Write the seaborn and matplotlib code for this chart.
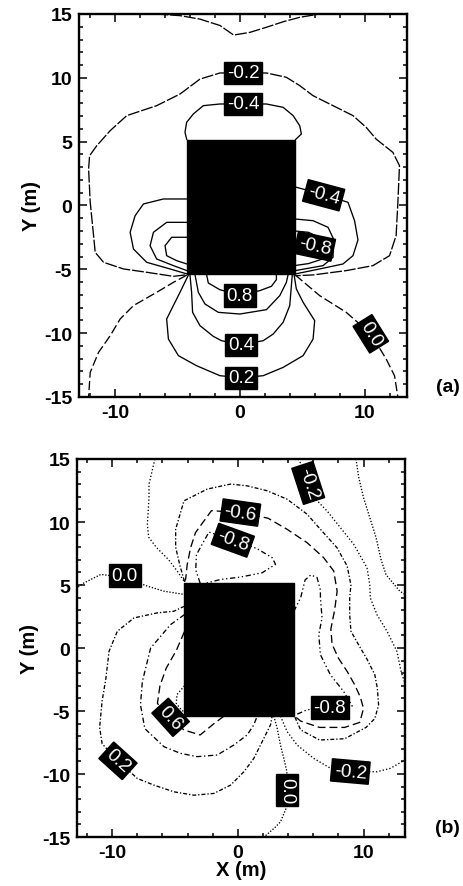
import matplotlib
matplotlib.use("Agg")
import matplotlib.pyplot as plt
from matplotlib.patches import Rectangle
from matplotlib.ticker import MultipleLocator
import seaborn as sns

sns.set_style("ticks")
plt.rcParams["font.family"] = ["Liberation Sans", "DejaVu Sans"]
plt.rcParams["axes.unicode_minus"] = False
for key in ("text.color", "axes.labelcolor", "xtick.color", "ytick.color", "axes.edgecolor"):
    plt.rcParams[key] = "black"

# Building footprint (m)
BLDG_X = (-4.25, 4.45)
BLDG_Y = (-5.4, 5.15)

# ---------------- panel (a): contour lines, (x, y) in metres ----------------
a_far = [(-6.7, 15.0), (-4.8, 14.87), (-3.2, 14.6), (-1.6, 14.1), (-0.5, 13.35),
         (0.8, 13.56), (2.1, 13.95), (3.5, 14.4), (4.8, 14.74), (6.4, 15.0)]
a_m02 = [(-4.4, -5.44), (-5.33, -5.55), (-7.47, -5.23), (-9.33, -4.97), (-10.93, -4.45),
         (-11.6, -3.67), (-11.73, -2.36), (-12.0, 0.25), (-12.13, 2.86), (-12.05, 3.9),
         (-11.47, 4.69), (-10.4, 5.86), (-9.07, 7.04), (-6.67, 7.82), (-4.8, 8.73),
         (-3.2, 9.9), (-1.6, 10.38), (2.13, 10.38), (3.73, 10.04), (4.8, 9.39),
         (5.87, 8.6), (7.47, 7.82), (9.07, 7.04), (10.13, 6.12), (10.93, 5.2),
         (12.27, 4.16), (12.8, 3.12), (12.67, 0.25), (12.53, -2.36), (12.0, -3.93),
         (10.67, -4.71), (8.53, -5.1), (5.87, -5.44), (4.45, -5.5)]
a_m04_top = [(-4.25, 5.15), (-4.4, 5.73), (-4.27, 6.51), (-3.73, 7.17), (-2.93, 7.82),
             (-1.6, 7.95), (2.13, 7.95), (3.47, 7.69), (4.27, 7.04), (4.8, 6.25),
             (4.93, 5.6), (4.45, 5.15)]
a_m04_left = [(-4.25, 0.51), (-6.13, 0.51), (-7.73, 0.12), (-8.4, -0.8), (-8.8, -2.1),
              (-8.53, -3.41), (-7.47, -4.45), (-5.6, -4.97), (-4.25, -5.36)]
a_m04_right = [(4.45, 1.45), (6.7, 0.85), (8.67, 0.25), (9.2, -1.2), (9.47, -2.7),
               (9.07, -3.93), (8.27, -4.58), (6.4, -4.97), (4.45, -5.36)]
a_m06_left = [(-4.25, -1.32), (-5.87, -1.32), (-6.93, -2.1), (-7.2, -3.15),
              (-6.67, -4.19), (-5.33, -4.71), (-4.25, -5.1)]
a_m06_right = [(4.45, -1.06), (5.87, -1.19), (7.07, -1.71), (7.5, -2.6),
               (7.47, -4.06), (6.67, -4.71), (4.45, -5.1)]
a_m08_left = [(-4.25, -2.49), (-5.47, -2.49), (-6.0, -3.15), (-5.87, -3.93),
              (-5.07, -4.32), (-4.25, -4.58)]
a_m08_right = [(4.45, -2.0), (5.5, -2.1), (6.6, -2.6), (7.0, -3.4), (6.6, -4.2),
               (5.5, -4.55), (4.45, -4.7)]
a_p08 = [(-2.67, -5.4), (-2.53, -6.07), (-1.6, -6.6), (0.0, -7.0), (1.6, -6.67),
         (2.53, -6.33), (2.93, -5.81), (2.93, -5.4)]
a_p06 = [(-3.6, -5.4), (-3.33, -6.8), (-2.8, -7.71), (-1.73, -8.37), (0.0, -8.5),
         (2.13, -8.16), (3.2, -7.06), (3.73, -6.02), (3.87, -5.4)]
a_p04 = [(-4.0, -5.45), (-3.87, -6.8), (-3.79, -8.37), (-3.2, -9.41), (-2.13, -10.25),
         (-1.47, -10.59), (0.13, -10.9), (1.87, -10.59), (2.67, -10.07), (3.47, -9.15),
         (4.0, -7.84), (4.13, -6.28), (4.2, -5.45)]
a_p02 = [(-4.13, -5.45), (-4.8, -6.8), (-5.87, -8.89), (-5.73, -10.46), (-4.93, -11.76),
         (-3.47, -12.55), (-1.6, -13.33), (0.13, -13.5), (1.87, -13.33), (3.47, -12.68),
         (5.07, -11.76), (5.87, -10.46), (6.0, -9.02), (5.07, -7.58), (4.53, -6.54),
         (4.35, -5.45)]
a_p00_left = [(-4.25, -5.45), (-5.33, -6.02), (-6.67, -6.8), (-8.53, -7.84), (-9.6, -8.89),
              (-10.4, -10.2), (-11.33, -11.5), (-12.0, -13.07), (-12.13, -15.0)]
a_p00_right = [(4.45, -5.45), (6.4, -7.06), (8.53, -8.37), (10.5, -10.05),
               (11.73, -12.02), (12.4, -13.33), (12.67, -15.0)]

# ---------------- panel (b): contour lines, (x, y) in metres ----------------
b_p00_left = [(-12.9, 4.7), (-12.37, 5.1), (-11.44, 5.57), (-10.9, 5.84), (-9.0, 5.6),
              (-7.2, 4.91), (-5.88, 4.51), (-4.25, 4.25)]
b_p00_top = [(9.4, 15.0), (9.62, 13.54), (10.0, 11.94), (10.5, 10.35), (11.0, 8.76),
             (11.4, 7.0), (11.8, 5.8), (12.9, 4.5), (13.3, 4.25)]
b_p00_bottom = [(2.86, -5.4), (3.13, -6.37), (3.39, -7.7), (3.66, -8.76), (3.9, -9.8),
                (3.9, -11.28), (3.85, -12.7), (3.39, -13.8), (2.86, -14.33), (2.07, -15.0)]
b_p02 = [(-4.25, 3.32), (-5.09, 2.92), (-6.41, 2.79), (-8.26, 2.39), (-9.59, 1.33),
         (-10.25, -0.26), (-10.5, -2.4), (-10.8, -4.2), (-11.0, -6.3), (-10.8, -7.6),
         (-9.54, -8.95), (-8.0, -10.35), (-6.68, -10.88), (-5.09, -11.41), (-3.5, -11.68),
         (-1.91, -11.54), (-0.58, -10.88), (0.48, -9.82), (1.27, -8.76), (2.07, -7.16),
         (2.6, -6.1), (2.73, -5.4)]
b_p04 = [(-4.25, 2.65), (-5.35, 1.86), (-6.94, 0.0), (-7.6, -2.66), (-7.75, -4.5),
         (-7.4, -6.4), (-5.88, -7.83), (-4.56, -8.36), (-3.23, -8.62), (-1.64, -8.49),
         (-0.32, -7.7), (0.74, -6.9), (1.27, -6.1), (1.54, -5.4)]
b_p06 = [(-4.25, 1.3), (-4.9, -0.2), (-5.7, -1.6), (-6.2, -3.0), (-6.4, -4.4),
         (-5.35, -5.5), (-4.3, -6.5), (-3.0, -6.9), (-1.9, -6.0), (-1.1, -5.4)]
b_p08 = [(-4.25, -3.0), (-4.85, -3.7), (-4.9, -4.4), (-4.5, -4.9), (-4.25, -5.1)]
b_m02_left = [(-6.6, 15.0), (-7.07, 13.0), (-7.07, 11.95), (-7.2, 9.82), (-7.1, 8.8),
              (-6.5, 8.0), (-5.5, 7.0), (-4.82, 6.1), (-4.25, 5.25)]
b_m02_top = [(4.8, 15.0), (5.2, 14.3), (5.6, 13.1), (6.0, 12.0), (7.1, 10.88),
             (8.16, 9.55), (9.22, 8.23), (10.28, 6.37), (10.5, 5.0), (10.54, 3.98),
             (11.07, 2.65), (11.87, 1.33), (12.66, -0.27), (13.0, -1.9), (13.3, -2.8)]
b_m02_bottom = [(3.39, -5.4), (3.92, -6.63), (4.72, -7.7), (6.04, -8.76), (7.3, -9.5),
                (8.95, -9.8), (11.07, -9.82), (12.13, -9.55), (13.06, -9.02), (13.3, -8.85)]
b_m04 = [(-4.25, 5.3), (-4.6, 6.5), (-4.95, 8.0), (-4.95, 9.42), (-4.29, 11.68),
         (-2.44, 12.61), (-0.58, 13.01), (0.74, 12.87), (2.33, 12.48), (3.92, 11.81),
         (5.51, 10.62), (6.57, 9.42), (7.89, 7.96), (8.7, 6.5), (9.0, 5.0), (8.9, 4.0),
         (8.9, 2.65), (9.0, 1.33), (9.6, 0.27), (10.3, -0.93), (10.9, -2.12),
         (11.1, -3.19), (11.2, -4.52), (10.9, -5.6), (10.2, -6.3), (8.5, -7.2),
         (6.5, -7.3), (5.0, -6.5), (4.5, -5.4)]
b_m06 = [(-4.25, 5.25), (-4.15, 5.5), (-4.03, 6.63), (-3.76, 7.96), (-3.37, 9.16),
         (-2.1, 10.9), (0.2, 10.75), (2.4, 10.3), (3.92, 9.42), (5.51, 8.36),
         (6.83, 7.17), (7.63, 6.11), (7.9, 4.51), (7.7, 3.0), (7.4, 1.5), (7.5, 0.3),
         (8.0, -0.8), (8.7, -1.86), (9.3, -2.92), (9.75, -3.9), (10.0, -4.8),
         (9.7, -5.9), (8.5, -6.3), (6.5, -6.3), (5.0, -5.8), (4.5, -5.4)]
b_m08_top = [(-3.0, 5.15), (-3.35, 6.2), (-3.3, 7.4), (-2.3, 9.2), (1.5, 7.9),
             (2.73, 7.17), (3.0, 6.64), (1.93, 5.97), (0.21, 5.63), (-1.38, 5.44),
             (-2.5, 5.15)]
b_m08_right = [(4.45, 2.9), (5.0, 4.0), (5.35, 5.4), (5.8, 5.8), (6.3, 5.6),
               (6.57, 4.6), (6.57, 3.98), (6.7, 2.39), (6.44, 1.06), (6.57, -0.53),
               (7.36, -2.12), (8.42, -3.45), (9.1, -4.6), (5.5, -4.9), (4.5, -5.35)]

# contour level of each line
a_lines = [(-0.2, a_far), (-0.2, a_m02), (-0.4, a_m04_top), (-0.4, a_m04_left),
           (-0.4, a_m04_right), (-0.6, a_m06_left), (-0.6, a_m06_right),
           (-0.8, a_m08_left), (-0.8, a_m08_right), (0.8, a_p08), (0.6, a_p06),
           (0.4, a_p04), (0.2, a_p02), (0.0, a_p00_left), (0.0, a_p00_right)]
b_lines = [(0.0, b_p00_left), (0.0, b_p00_top), (0.0, b_p00_bottom), (0.2, b_p02),
           (0.4, b_p04), (0.6, b_p06), (0.8, b_p08), (-0.2, b_m02_left),
           (-0.2, b_m02_top), (-0.2, b_m02_bottom), (-0.4, b_m04), (-0.6, b_m06),
           (-0.8, b_m08_top), (-0.8, b_m08_right)]

# inline labels: (level, x, y, angle)
a_labels = [(-0.2, 0.25, 10.4, 0), (-0.4, 0.25, 7.95, 0), (-0.4, 6.72, 0.8, -15),
            (-0.8, 6.0, -3.2, -12), (0.8, 0.0, -7.05, 0), (0.4, 0.1, -10.9, 0),
            (0.2, 0.1, -13.5, 0), (0.0, 10.5, -10.05, -58)]
b_labels = [(-0.2, 5.6, 13.1, -72), (-0.6, 0.2, 10.75, -8), (-0.8, -0.4, 8.55, -20),
            (0.0, -9.0, 5.75, 0), (0.6, -5.35, -5.5, -48), (0.2, -9.54, -8.95, -42),
            (-0.8, 7.3, -4.72, 0), (-0.2, 8.95, -9.8, -5), (0.0, 3.9, -11.28, -90)]

# line dash pattern per level
a_style = {0.8: "solid", 0.6: "solid", 0.4: "solid", 0.2: "solid", 0.0: (0, (7, 2.5)),
           -0.2: (0, (9, 1.5)), -0.4: "solid", -0.6: "solid", -0.8: "solid"}
b_style = {0.8: (0, (1, 1.5)), 0.6: (0, (6, 3)), 0.4: (0, (4, 2, 1, 2)),
           0.2: (0, (3, 1.5, 1, 1.5)), 0.0: (0, (1, 1.3)), -0.2: (0, (1, 1.6)),
           -0.4: (0, (3, 1.5, 1, 1.5)), -0.6: (0, (6, 3)), -0.8: (0, (4, 2, 1, 2, 1, 2))}


def draw_panel(ax, lines, labels, style, xlim):
    for level, pts in lines:
        xs = [p[0] for p in pts]
        ys = [p[1] for p in pts]
        sns.lineplot(x=xs, y=ys, sort=False, estimator=None, color="black",
                     lw=0.95, linestyle=style[level], ax=ax, zorder=2)
    ax.add_patch(Rectangle((BLDG_X[0], BLDG_Y[0]), BLDG_X[1] - BLDG_X[0],
                           BLDG_Y[1] - BLDG_Y[0], facecolor="black",
                           edgecolor="black", zorder=3))
    for level, x, y, ang in labels:
        ax.text(x, y, f"{abs(level) if level == 0 else level:.1f}", rotation=ang,
                rotation_mode="anchor", ha="center", va="center", color="white",
                fontsize=13.5, zorder=5,
                bbox=dict(boxstyle="square,pad=0.14", fc="black", ec="black"))
    ax.set_xlim(*xlim)
    ax.set_ylim(-15, 15)
    ax.set_xticks([-10, 0, 10])
    ax.set_yticks([-15, -10, -5, 0, 5, 10, 15])
    ax.xaxis.set_minor_locator(MultipleLocator(2))
    ax.yaxis.set_minor_locator(MultipleLocator(1))
    ax.tick_params(which="both", direction="in", top=True, right=True, width=1.1,
                   color="black")
    ax.tick_params(which="major", length=6, labelsize=14, pad=5)
    ax.tick_params(which="minor", length=3)
    for lab in ax.get_xticklabels() + ax.get_yticklabels():
        lab.set_fontweight("bold")
    for sp in ax.spines.values():
        sp.set_linewidth(1.7)
        sp.set_color("black")
    ax.set_ylabel("Y (m)", fontsize=14.5, fontweight="bold", labelpad=2)
    ax.set_xlabel("")


fig = plt.figure(figsize=(4.63, 8.87), dpi=100)
ax_a = fig.add_axes([0.1706, 0.5513, 0.7084, 0.4318])
ax_b = fig.add_axes([0.1663, 0.0552, 0.7084, 0.4262])

draw_panel(ax_a, a_lines, a_labels, a_style, (-12.9, 13.4))
draw_panel(ax_b, b_lines, b_labels, b_style, (-12.8, 13.3))
ax_b.set_xlabel("X (m)", fontsize=14.5, fontweight="bold", labelpad=-1)

fig.text(0.967, 0.5626, "(a)", ha="center", va="center", fontsize=14, fontweight="bold")
fig.text(0.967, 0.0665, "(b)", ha="center", va="center", fontsize=14, fontweight="bold")

fig.savefig("out.png", dpi=100, facecolor="white")
